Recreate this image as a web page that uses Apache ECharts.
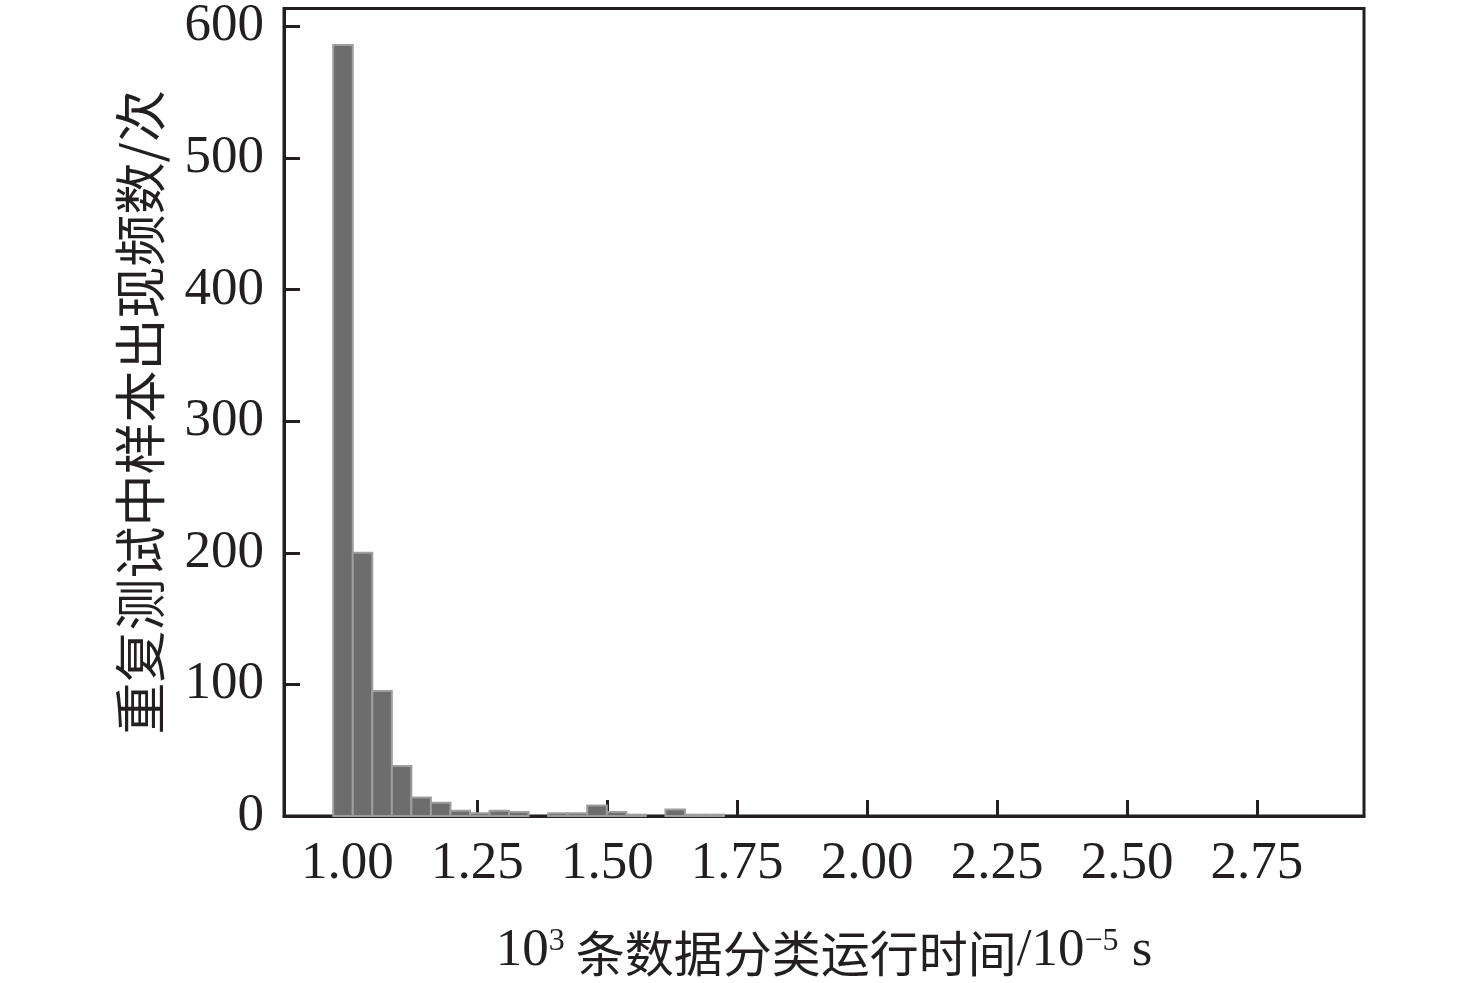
<!DOCTYPE html>
<html>
<head>
<meta charset="utf-8">
<script src="https://cdn.jsdelivr.net/npm/echarts@6/dist/echarts.min.js"></script>
<style>html,body{margin:0;padding:0;background:#fff}#c{width:1476px;height:983px}</style>
</head>
<body>
<div id="c"></div>
<script>
// Histogram: bin start, bin width and counts per bin
const binStart = 0.9727;
const binWidth = 0.0376;
const counts = [586, 200, 95, 38, 14, 10, 4, 2, 4, 3, 0, 2, 2, 8, 3, 1, 0, 5, 1, 1];
const xTicks = [1.00, 1.25, 1.50, 1.75, 2.00, 2.25, 2.50, 2.75];
const yTicks = [0, 100, 200, 300, 400, 500, 600];

const data = counts.map((c, i) => [binStart + i * binWidth, binStart + (i + 1) * binWidth, c]);

const ink = '#231f20';
const serif = '"Liberation Serif", "Times New Roman", serif';
const cjk = '"Noto Sans CJK SC", sans-serif';

const chart = echarts.init(document.getElementById('c'), null, {renderer: 'canvas'});
chart.setOption({
  animation: false,
  backgroundColor: '#fff',
  grid: {left: 284, right: 112, top: 7, bottom: 166, show: true, borderColor: ink, borderWidth: 3, backgroundColor: 'transparent'},
  xAxis: {
    type: 'value', min: 0.878, max: 2.956,
    axisLine: {show: true, lineStyle: {color: ink, width: 3}},
    axisTick: {show: true, inside: true, length: 16, lineStyle: {color: ink, width: 3}, customValues: xTicks},
    axisLabel: {color: ink, fontFamily: serif, fontSize: 53, margin: 22, customValues: xTicks, formatter: v => v.toFixed(2)},
    splitLine: {show: false},
    name: '{n|10}{s|3}{c| 条数据分类运行时间}{n|/10}{s|−5}{n| s}',
    nameLocation: 'middle', nameGap: 104,
    nameTextStyle: {
      color: ink,
      rich: {
        n: {fontFamily: serif, fontSize: 53, color: ink, lineHeight: 58, verticalAlign: 'bottom'},
        c: {fontFamily: cjk, fontSize: 49, color: ink, lineHeight: 58, verticalAlign: 'bottom'},
        s: {fontFamily: serif, fontSize: 32, color: ink, lineHeight: 32, verticalAlign: 'top', padding: [6, 0, 0, 0]}
      }
    }
  },
  yAxis: {
    type: 'value', min: 0, max: 613.6,
    axisLine: {show: true, lineStyle: {color: ink, width: 3}},
    axisTick: {show: true, inside: true, length: 16, lineStyle: {color: ink, width: 3}, customValues: yTicks},
    axisLabel: {color: ink, fontFamily: serif, fontSize: 53, margin: 20, customValues: yTicks},
    splitLine: {show: false},
    name: '重复测试中样本出现频数/次',
    nameLocation: 'middle', nameRotate: 90, nameGap: 118,
    nameTextStyle: {color: ink, fontFamily: cjk, fontSize: 52}
  },
  series: [{
    type: 'custom',
    data: data,
    encode: {x: [0, 1], y: 2},
    renderItem: function (params, api) {
      const v = api.value(2);
      if (!v) return null;
      const p0 = api.coord([api.value(0), v]);
      const p1 = api.coord([api.value(1), 0]);
      return {
        type: 'rect',
        shape: {x: p0[0], y: p0[1], width: p1[0] - p0[0], height: p1[1] - p0[1]},
        style: {fill: '#6d6d6d', stroke: '#9e9e9e', lineWidth: 2}
      };
    }
  }]
});
</script>
</body>
</html>
